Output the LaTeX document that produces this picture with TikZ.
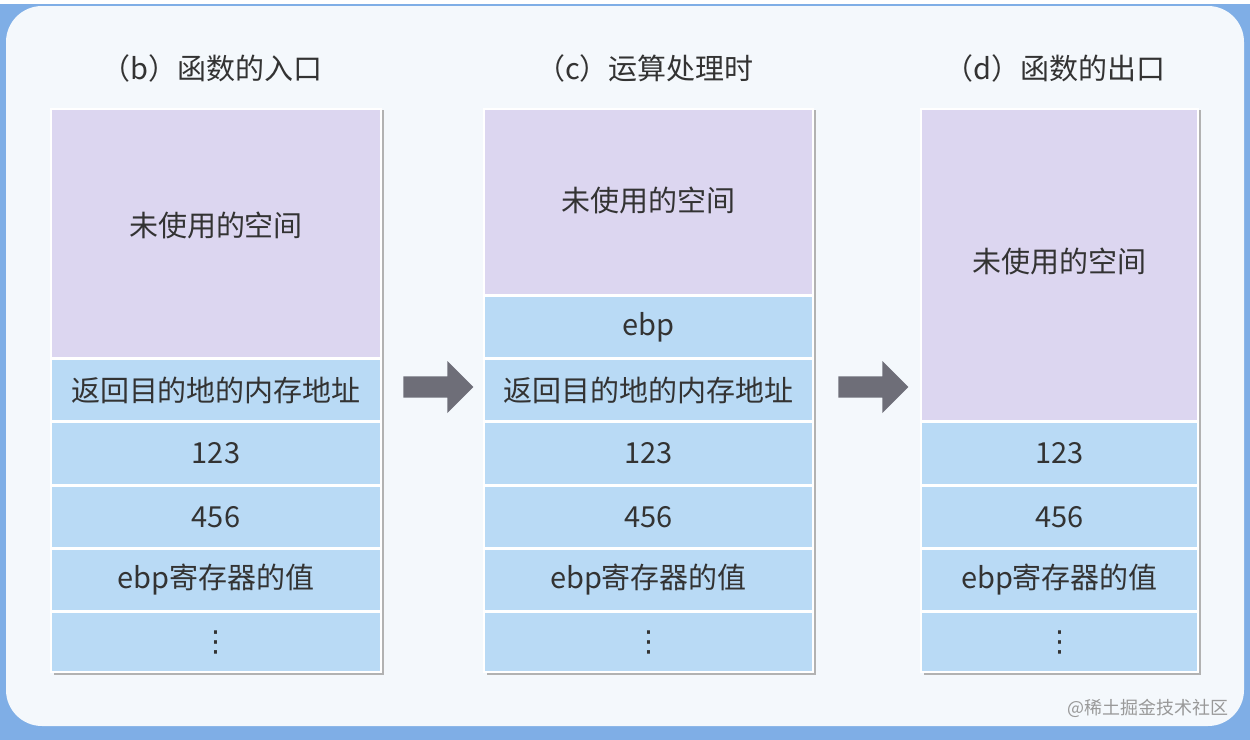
\documentclass[tikz,border=0pt]{standalone}
\usepackage{fontspec}
\setmainfont{Noto Sans CJK SC}
\newfontfamily\symfont{DejaVu Sans}
\usetikzlibrary{shapes.arrows}
\definecolor{cellblue}{HTML}{B9DAF5}
\definecolor{cellpurple}{HTML}{DCD6F0}
\definecolor{frameblue}{HTML}{7FAEE6}
\definecolor{bgpale}{HTML}{F4F8FC}
\definecolor{txt}{HTML}{333333}
\definecolor{arrowgray}{HTML}{6E6E78}
\tikzset{
  cell/.style={fill=#1,draw=white,line width=1pt,inner sep=0pt,text=txt},
  title/.style={text=txt,font=\fontsize{14.5}{16}\selectfont},
  lbl/.style={text=txt,font=\fontsize{14.5}{16}\selectfont},
  bigarrow/.style={single arrow,fill=arrowgray,draw=none,minimum height=35pt,minimum width=26pt,single arrow head extend=6pt,inner sep=4pt,single arrow head indent=0pt}
}
\newcommand{\cellat}[6]{%
  \node[cell=#6,minimum width={(#4-#2)*0.5pt},minimum height={(#5-#3)*0.5pt},anchor=north west] (#1) at (#2,#3) {};}
\newcommand{\vd}{{\symfont ⋮}}
\begin{document}
\begin{tikzpicture}[x=0.5pt,y=-0.5pt]
\useasboundingbox (0,0) rectangle (1250,740);
\fill[frameblue] (0,0) rectangle (1250,740);
\fill[white] (0,0) rectangle (1250,4);
\fill[bgpale,rounded corners=18pt] (6,6) rectangle (1244,726);
\foreach \a/\b in {50/380,483/812,920/1197}{
  \fill[gray!60] (\b,110) rectangle (\b+4,675);
  \fill[gray!60] (\a+4,671) rectangle (\b+4,675);
}
\cellat{bu}{50}{108}{380}{357}{cellpurple}
\cellat{br}{50}{358}{380}{420}{cellblue}
\cellat{b1}{50}{421}{380}{484}{cellblue}
\cellat{b4}{50}{485}{380}{547}{cellblue}
\cellat{be}{50}{548}{380}{610}{cellblue}
\cellat{bd}{50}{611}{380}{671}{cellblue}
\cellat{cu}{483}{108}{812}{294}{cellpurple}
\cellat{cb}{483}{295}{812}{357}{cellblue}
\cellat{cr}{483}{358}{812}{420}{cellblue}
\cellat{c1}{483}{421}{812}{484}{cellblue}
\cellat{c4}{483}{485}{812}{547}{cellblue}
\cellat{ce}{483}{548}{812}{610}{cellblue}
\cellat{cd}{483}{611}{812}{671}{cellblue}
\cellat{du}{920}{108}{1197}{420}{cellpurple}
\cellat{d1}{920}{421}{1197}{484}{cellblue}
\cellat{d4}{920}{485}{1197}{547}{cellblue}
\cellat{de}{920}{548}{1197}{610}{cellblue}
\cellat{dd}{920}{611}{1197}{671}{cellblue}
\node[lbl] at ([yshift=4pt]bu.center) {未使用的空间};
\node[lbl] at (br.center) {返回目的地的内存地址};
\node[lbl] at (b1.center) {123};
\node[lbl] at (b4.center) {456};
\node[lbl] at (be.center) {ebp寄存器的值};
\node[lbl] at (bd.center) {\vd};
\node[lbl] at ([yshift=1pt]cu.center) {未使用的空间};
\node[lbl] at (cb.center) {ebp};
\node[lbl] at (cr.center) {返回目的地的内存地址};
\node[lbl] at (c1.center) {123};
\node[lbl] at (c4.center) {456};
\node[lbl] at (ce.center) {ebp寄存器的值};
\node[lbl] at (cd.center) {\vd};
\node[lbl] at ([yshift=2pt]du.center) {未使用的空间};
\node[lbl] at (d1.center) {123};
\node[lbl] at (d4.center) {456};
\node[lbl] at (de.center) {ebp寄存器的值};
\node[lbl] at (dd.center) {\vd};
\node[title] (tb) at (212,68) {（b）函数的入口};
\node[title] (tc) at (645,68) {（c）运算处理时};
\node[title] (td) at (1055,68) {（d）函数的出口};
\node[bigarrow] (a1) at (433,387) {};
\node[bigarrow] (a2) at (868,387) {};
\node[text=gray!80,font=\fontsize{9}{11}\selectfont] (wm) at (1148,708) {@稀土掘金技术社区};
\end{tikzpicture}
\end{document}
